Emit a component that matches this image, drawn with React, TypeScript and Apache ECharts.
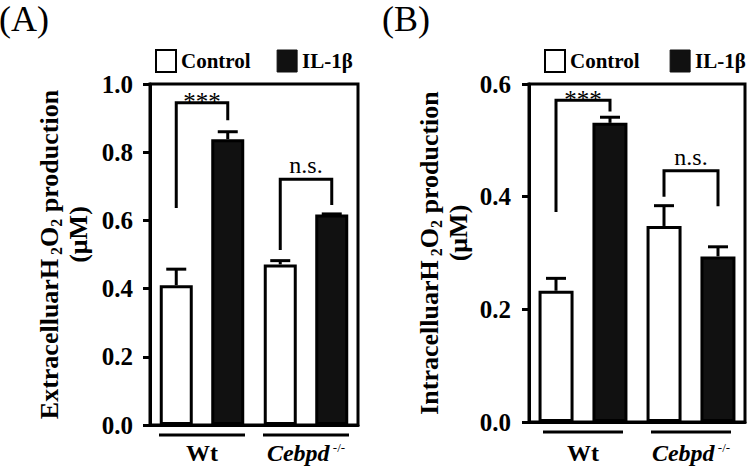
import React, { useEffect, useRef } from "react";
import * as echarts from "echarts";

const FONT = "Liberation Serif, Times New Roman, serif";

const categories = ["Wt", "Cebpd"];
const seriesNames = ["Control", "IL-1β"];

// Panel A: extracellular
const extraControl = [0.41, 0.471];
const extraControlErr = [0.047, 0.011];
const extraIL = [0.838, 0.617];
const extraILErr = [0.022, 0.002];
const extraBracketCats = [0, 1];
const extraBracketLeft = [0.636, 0.513];
const extraBracketTop = [0.945, 0.721];
const extraBracketRight = [0.894, 0.645];
const extraBracketLabels = ["***", "n.s."];

// Panel B: intracellular
const intraControl = [0.233, 0.348];
const intraControlErr = [0.022, 0.036];
const intraIL = [0.531, 0.294];
const intraILErr = [0.01, 0.017];
const intraBracketCats = [0, 1];
const intraBracketLeft = [0.373, 0.4];
const intraBracketTop = [0.571, 0.446];
const intraBracketRight = [0.551, 0.383];
const intraBracketLabels = ["***", "n.s."];

const BLACK = "#111";

function errRender(half: number) {
  return (params: any, api: any) => {
    const cat = api.value(0);
    const v = api.value(1);
    const e = api.value(2);
    const side = api.value(3);
    const p0 = api.coord([cat, v]);
    const p1 = api.coord([cat, v + e]);
    const x = p0[0] + side * half;
    return {
      type: "group",
      children: [
        { type: "line", shape: { x1: x, y1: p0[1], x2: x, y2: p1[1] }, style: { stroke: "#000", lineWidth: 3 } },
        { type: "line", shape: { x1: x - 10, y1: p1[1], x2: x + 10, y2: p1[1] }, style: { stroke: "#000", lineWidth: 3 } },
      ],
    };
  };
}

function bracketRender(half: number, labels: string[]) {
  return (params: any, api: any) => {
    const cat = api.value(0);
    const pl = api.coord([cat, api.value(1)]);
    const pt = api.coord([cat, api.value(2)]);
    const pr = api.coord([cat, api.value(3)]);
    const xL = pl[0] - half;
    const xR = pl[0] + half;
    const label = labels[params.dataIndex];
    const isStar = label === "***";
    return {
      type: "group",
      children: [
        {
          type: "polyline",
          shape: { points: [[xL, pl[1]], [xL, pt[1]], [xR, pt[1]], [xR, pr[1]]] },
          style: { stroke: "#000", lineWidth: 3, fill: null },
        },
        {
          type: "text",
          x: (xL + xR) / 2,
          y: isStar ? pt[1] - 1 : pt[1] - 2,
          style: {
            text: label,
            fill: "#000",
            fontFamily: FONT,
            fontSize: isStar ? 25 : 24,
            fontWeight: "normal",
            align: "center",
            verticalAlign: isStar ? "middle" : "bottom",
          },
        },
      ],
    };
  };
}

function groupLineRender(halfWidth: number) {
  return (params: any, api: any) => {
    const c = api.coord([api.value(0), 0]);
    const y = c[1] + 10;
    return {
      type: "line",
      shape: { x1: c[0] - halfWidth, y1: y, x2: c[0] + halfWidth, y2: y },
      style: { stroke: "#000", lineWidth: 3 },
    };
  };
}

const yName = (prefix: string) => `${prefix}H{sub| 2}O{sub|2} production\n{u|(μM)}`;

function makeYAxis(gridIndex: number, max: number, prefix: string, labelMargin: number, nameGap: number) {
  return {
    type: "value",
    gridIndex,
    min: 0,
    max,
    interval: 0.2,
    name: yName(prefix),
    nameLocation: "middle",
    nameRotate: 90,
    nameGap,
    nameTextStyle: {
      fontFamily: FONT,
      fontSize: 26,
      fontWeight: "bold",
      color: "#000",
      lineHeight: 29,
      rich: {
        sub: { fontFamily: FONT, fontSize: 16, fontWeight: "bold", color: "#000", verticalAlign: "bottom", lineHeight: 29 },
        u: { fontFamily: FONT, fontSize: 26, fontWeight: "bold", color: "#000", padding: [0, 0, 0, 40], lineHeight: 29 },
      },
    },
    axisLine: { show: true, lineStyle: { color: "#000", width: 3 } },
    axisTick: { show: true, inside: false, length: 7, lineStyle: { color: "#000", width: 3 } },
    axisLabel: {
      margin: labelMargin,
      fontFamily: FONT,
      fontSize: 25,
      fontWeight: "bold",
      color: "#000",
      formatter: (v: number) => v.toFixed(1),
    },
    splitLine: { show: false },
  };
}

function makeXAxis(gridIndex: number, margin: number) {
  return {
    type: "category",
    gridIndex,
    data: categories,
    axisLine: { show: true, lineStyle: { color: "#000", width: 3 } },
    axisTick: { show: false },
    axisLabel: {
      interval: 0,
      margin,
      color: "#000",
      fontFamily: FONT,
      fontSize: 24,
      fontWeight: "bold",
      formatter: (v: string) => (v === "Wt" ? "{n|Wt}" : "{i|Cebpd}{sup| -/-}"),
      rich: {
        n: { fontFamily: FONT, fontSize: 24, fontWeight: "bold", color: "#000" },
        i: { fontFamily: FONT, fontSize: 24, fontWeight: "bold", fontStyle: "italic", color: "#000" },
        sup: { fontFamily: FONT, fontSize: 13, fontWeight: "normal", color: "#000", verticalAlign: "top" },
      },
    },
    splitLine: { show: false },
  };
}

function barSeries(name: string, data: number[], idx: number, barWidth: number, barGap: string, isControl: boolean) {
  return {
    name,
    type: "bar",
    xAxisIndex: idx,
    yAxisIndex: idx,
    data,
    barWidth,
    barGap,
    itemStyle: {
      color: isControl ? "#fff" : BLACK,
      borderColor: "#000",
      borderWidth: 3,
    },
    z: 2,
  };
}

const legendData = [
  { name: "Control", itemStyle: { color: "#fff", borderColor: "#000", borderWidth: 2 } },
  { name: "IL-1β", itemStyle: { color: BLACK, borderColor: BLACK, borderWidth: 1 } },
];

function makeLegend(left: number, itemGap: number) {
  return {
    left,
    top: 49,
    padding: 0,
    itemWidth: 20,
    itemHeight: 22,
    itemGap,
    icon: "rect",
    selectedMode: false,
    data: legendData,
    textStyle: { fontFamily: FONT, fontSize: 21, fontWeight: "bold", color: "#000" },
  };
}

export default function App() {
  const ref = useRef<HTMLDivElement>(null);

  useEffect(() => {
    if (!ref.current) return;
    const chart = echarts.init(ref.current, undefined, { renderer: "svg" });

    const halfA = 25.75;
    const halfB = 27;

    const errData = (vals: number[], errs: number[], side: number) =>
      vals.map((v, i) => [i, v, errs[i], side]);

    const bracketData = (cats: number[], l: number[], t: number[], r: number[]) =>
      cats.map((c, i) => [c, l[i], t[i], r[i]]);

    const option: any = {
      animation: false,
      backgroundColor: "#fff",
      title: [
        { text: "(A)", left: -1, top: 1, padding: 0, textStyle: { fontFamily: FONT, fontSize: 36, fontWeight: "normal", color: "#000" } },
        { text: "(B)", left: 382, top: 1, padding: 0, textStyle: { fontFamily: FONT, fontSize: 36, fontWeight: "normal", color: "#000" } },
      ],
      legend: [makeLegend(155, 26), makeLegend(544, 30)],
      grid: [
        { left: 150, right: 390, top: 84, bottom: 43, show: true, borderColor: "#000", borderWidth: 3, backgroundColor: "transparent", containLabel: false },
        { left: 529, right: 3, top: 84, bottom: 46, show: true, borderColor: "#000", borderWidth: 3, backgroundColor: "transparent", containLabel: false },
      ],
      xAxis: [makeXAxis(0, 16), makeXAxis(1, 19)],
      yAxis: [
        makeYAxis(0, 1.0, "Extracelluar", 17, 57),
        makeYAxis(1, 0.6, "Intracelluar", 18, 56),
      ],
      series: [
        barSeries(seriesNames[0], extraControl, 0, 33, "56%", true),
        barSeries(seriesNames[1], extraIL, 0, 33, "56%", false),
        barSeries(seriesNames[0], intraControl, 1, 35, "54%", true),
        barSeries(seriesNames[1], intraIL, 1, 35, "54%", false),
        {
          type: "custom",
          xAxisIndex: 0,
          yAxisIndex: 0,
          renderItem: errRender(halfA),
          data: [...errData(extraControl, extraControlErr, -1), ...errData(extraIL, extraILErr, 1)],
          z: 5,
          silent: true,
        },
        {
          type: "custom",
          xAxisIndex: 1,
          yAxisIndex: 1,
          renderItem: errRender(halfB),
          data: [...errData(intraControl, intraControlErr, -1), ...errData(intraIL, intraILErr, 1)],
          z: 5,
          silent: true,
        },
        {
          type: "custom",
          xAxisIndex: 0,
          yAxisIndex: 0,
          renderItem: bracketRender(halfA, extraBracketLabels),
          data: bracketData(extraBracketCats, extraBracketLeft, extraBracketTop, extraBracketRight),
          z: 6,
          silent: true,
        },
        {
          type: "custom",
          xAxisIndex: 1,
          yAxisIndex: 1,
          renderItem: bracketRender(halfB, intraBracketLabels),
          data: bracketData(intraBracketCats, intraBracketLeft, intraBracketTop, intraBracketRight),
          z: 6,
          silent: true,
        },
        {
          type: "custom",
          xAxisIndex: 0,
          yAxisIndex: 0,
          renderItem: groupLineRender(43),
          data: categories.map((_, i) => [i]),
          clip: false,
          silent: true,
        },
        {
          type: "custom",
          xAxisIndex: 1,
          yAxisIndex: 1,
          renderItem: groupLineRender(40),
          data: categories.map((_, i) => [i]),
          clip: false,
          silent: true,
        },
      ],
    };

    chart.setOption(option);
    return () => chart.dispose();
  }, []);

  return (
    <div
      ref={ref}
      style={{ position: "fixed", left: 0, top: 0, width: 748, height: 468, background: "#fff" }}
    />
  );
}
